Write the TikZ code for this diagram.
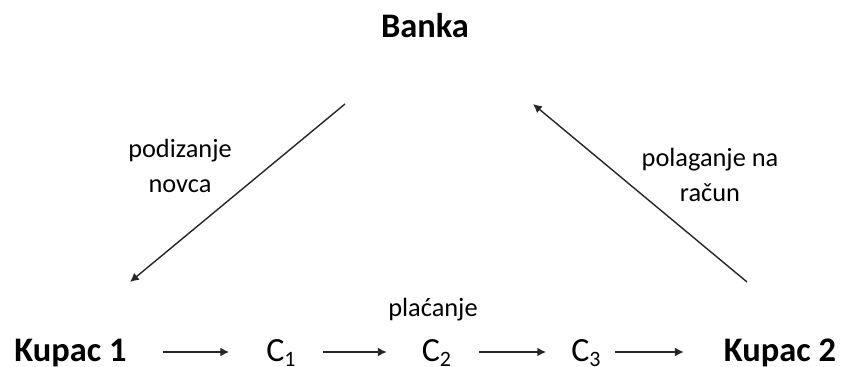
\documentclass[tikz,border=0pt]{standalone}
\usepackage{fontspec}
\setmainfont{Carlito}
\usetikzlibrary{arrows.meta}
\newcommand{\Csub}[1]{C\raisebox{-0.14em}{\fontsize{12.5pt}{12.5pt}\selectfont #1}}

\begin{document}
\begin{tikzpicture}[x=0.02cm,y=-0.02cm,
    party/.style={inner sep=0pt,font=\fontsize{19.6pt}{23pt}\selectfont\bfseries,
        text height=13.6pt,text depth=2.3pt},
    chain/.style={inner sep=0pt,font=\fontsize{19.3pt}{23pt}\selectfont,
        text height=13.6pt,text depth=2.3pt},
    lbl/.style={inner sep=0pt,align=center,font=\fontsize{15pt}{19.5pt}\selectfont}]
        \useasboundingbox (0,0) rectangle (845,367);

        \node[party,anchor=base] (banka) at (425,38) {Banka};
        \node[party] (kupac1) at (70.5,352) {Kupac 1};
        \node[chain] (c1) at (281,352) {\Csub{1}};
        \node[chain] (c2) at (436.5,352) {\Csub{2}};
        \node[chain] (c3) at (586,352) {\Csub{3}};
        \node[party] (kupac2) at (780,352) {Kupac 2};

        \node[lbl,anchor=base] (placanje) at (433,317) {plaćanje};
        \node[lbl] (podizanje) at (180,166) {podizanje\\novca};
        \node[lbl] (polaganje) at (710,175) {polaganje na\\račun};

        \coordinate (izlaz) at (345,104);
        \coordinate (ulaz1) at (130,282);
        \coordinate (izlaz2) at (747,282);
        \coordinate (ulaz) at (533,104);

        \path[->,>={Latex[length=5pt,width=5pt]},line width=0.8pt,color=black!85]
        (kupac1) edge[shorten <=20.4pt,shorten >=21pt] (c1)
        (c1) edge[shorten <=15.3pt,shorten >=19.8pt] (c2)
        (c2) edge[shorten <=15.9pt,shorten >=14.2pt] (c3)
        (c3) edge[shorten <=7.9pt,shorten >=22.7pt] (kupac2)
        (izlaz) edge (ulaz1)
        (izlaz2) edge (ulaz);
\end{tikzpicture}
\end{document}
